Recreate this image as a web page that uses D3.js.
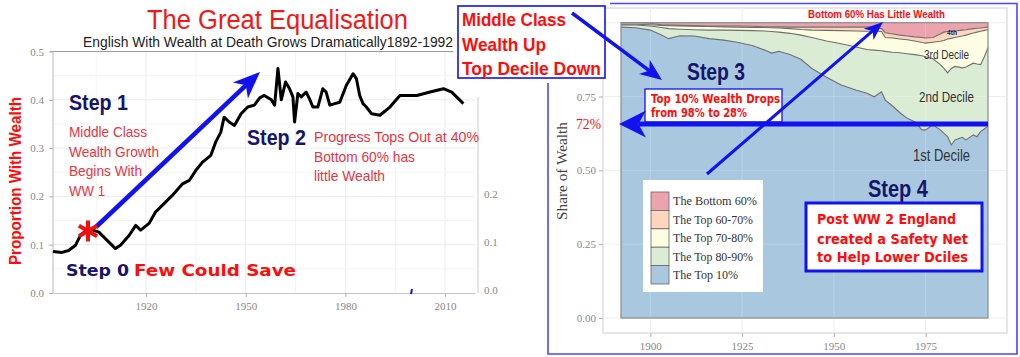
<!DOCTYPE html>
<html><head><meta charset="utf-8">
<script src="https://cdn.jsdelivr.net/npm/d3@7"></script>
<style>html,body{margin:0;padding:0;background:#fff;}svg{display:block;}</style>
</head><body>
<svg id="chart" width="1020" height="357"></svg>
<script>
// ---------- LEFT CHART DATA: proportion of English with wealth at death ----------
const yearsL = [1892,1894.7,1896.7,1898.8,1900.3,1902.8,1905.8,1908.3,1910.8,1912.3,1914.9,1916.9,1918.4,1920.9,1922.9,1925.4,1927.9,1931,1933,1935,1937,1939.5,1941,1942.5,1943.5,1945,1946.6,1948.6,1950.6,1952.6,1954.2,1955.6,1957.7,1958.7,1959.7,1960.7,1962,1963.2,1964.2,1964.7,1965.7,1966.7,1968.2,1969.2,1970.2,1971.7,1973.2,1974.2,1975.3,1976.8,1978.3,1980.3,1982.3,1983.3,1984.3,1985.3,1986.3,1987.9,1990.4,1993.4,1996.4,2001.5,2005.5,2009.5,2012,2015.5];
const proportionWithWealth = [.086,.084,.088,.099,.12,.133,.126,.109,.092,.099,.119,.14,.13,.144,.168,.185,.202,.226,.233,.254,.271,.285,.313,.333,.364,.354,.347,.371,.385,.389,.404,.409,.40,.389,.465,.40,.437,.423,.406,.354,.413,.406,.416,.402,.385,.385,.423,.416,.389,.392,.395,.43,.454,.444,.409,.392,.385,.371,.368,.385,.409,.409,.416,.423,.416,.392];
const leftYTicks = [0,0.1,0.2,0.3,0.4,0.5];
const leftRightTicks = [0,0.1,0.2];
const leftXTicks = [1920,1950,1980,2010];

// ---------- RIGHT CHART DATA: share of wealth by group ----------
const yearsR = [1892,1896,1900,1903,1905,1908,1912,1916,1920,1924,1928,1931,1933,1935,1938,1941,1944,1948,1952,1956,1959,1961,1963,1964,1966,1968,1970,1972,1974,1975,1977,1979,1980,1981,1982,1983,1985,1986,1988,1989,1990,1991,1992];
const top10   = [.985,.983,.975,.958,.946,.956,.955,.946,.941,.933,.922,.908,.897,.903,.892,.876,.845,.815,.789,.772,.761,.749,.766,.738,.718,.695,.676,.665,.637,.637,.654,.637,.625,.614,.586,.603,.612,.603,.620,.614,.631,.640,.650];
const top80_90 = [.007,.009,.014,.026,.034,.022,.021,.029,.034,.041,.051,.064,.073,.065,.072,.082,.105,.123,.140,.146,.148,.158,.139,.165,.182,.203,.219,.227,.251,.248,.224,.221,.220,.216,.259,.249,.235,.247,.243,.246,.227,.245,.265];
const top70_80 = [.003,.003,.004,.007,.010,.011,.012,.012,.011,.011,.011,.012,.013,.014,.016,.019,.025,.036,.044,.054,.062,.064,.065,.047,.048,.047,.047,.046,.045,.046,.056,.079,.095,.115,.102,.098,.108,.108,.102,.108,.113,.089,.061];
const top60_70 = [.005,.005,.005,.002,.002,.002,.002,.002,.003,.004,.004,.002,.003,.004,.005,.008,.010,.011,.012,.013,.014,.014,.010,.016,.014,.013,.013,.014,.017,.017,.016,.025,.028,.025,.024,.022,.020,.018,.015,.013,.011,.010,.009];
const bottom60 = [0,0,.002,.007,.008,.009,.010,.011,.011,.011,.012,.014,.014,.014,.015,.015,.015,.015,.015,.015,.015,.015,.020,.034,.038,.042,.045,.048,.050,.052,.050,.038,.032,.030,.029,.028,.025,.024,.020,.019,.018,.016,.015];
const groupKeys = ["top10","top80_90","top70_80","top60_70","bottom60"];
const groupLabels = ["The Top 10%","The Top 80-90%","The Top 70-80%","The Top 60-70%","The Bottom 60%"];
const groupColors = ["#a9c8e0","#dbecd5","#fdfde2","#fdd6bd","#eba3ad"];
const rightYTicks = [0,0.25,0.5,0.75,1];
const rightXTicks = [1900,1925,1950,1975];

const svg = d3.select("#chart");
svg.append("rect").attr("width",1020).attr("height",357).attr("fill","#fff");

const NAVY = "#15156a", RED = "#ff0d0d", PINKRED = "#e8353f", BLUE = "#1212ee";
const SANS = "'Liberation Sans', Arial, sans-serif";
const SERIF = "'Liberation Serif', 'DejaVu Serif', serif";
const WIDE = "'DejaVu Sans', Verdana, sans-serif";

function txt(g, x, y, s, o) {
  const t = g.append("text").attr("x", x).attr("y", y).text(s)
    .attr("font-family", o.family || SANS).attr("font-size", o.size || 12)
    .attr("font-weight", o.weight || "normal").attr("fill", o.fill || "#000")
    .attr("text-anchor", o.anchor || "start");
  if (o.len) t.attr("textLength", o.len).attr("lengthAdjust", "spacingAndGlyphs");
  if (o.rotate) t.attr("transform", `rotate(${o.rotate},${x},${y})`);
  return t;
}
function arrow(g, x1, y1, x2, y2, w, hl, hw, color) {
  const a = Math.atan2(y2 - y1, x2 - x1), c = Math.cos(a), s = Math.sin(a);
  const bx = x2 - hl * c, by = y2 - hl * s;
  const nx = x2 - hl * 0.72 * c, ny = y2 - hl * 0.72 * s;
  g.append("line").attr("x1", x1).attr("y1", y1).attr("x2", nx).attr("y2", ny)
    .attr("stroke", color).attr("stroke-width", w);
  g.append("path").attr("d", `M${x2},${y2}L${bx - s*hw/2},${by + c*hw/2}L${nx},${ny}L${bx + s*hw/2},${by - c*hw/2}Z`)
    .attr("fill", color);
}

// ================= LEFT CHART =================
const L = svg.append("g");
const xL = d3.scaleLinear().domain([1892, 2019]).range([53, 475]);
const yL = d3.scaleLinear().domain([0, 0.5]).range([293, 51.5]);
const yLr = d3.scaleLinear().domain([0, 0.4]).range([290, 97]);

// grid
const gridYears = [1905,1920,1935,1950,1965,1980,1995,2010];
L.selectAll(".gv").data(gridYears).join("line")
  .attr("x1", d => xL(d)).attr("x2", d => xL(d)).attr("y1", yL(0.5)).attr("y2", yL(0))
  .attr("stroke", (d,i) => i % 2 ? "#ececec" : "#f4f4f4").attr("stroke-width", 1);
L.selectAll(".gh").data(d3.range(0.05, 0.5, 0.05)).join("line")
  .attr("x1", xL(1892)).attr("x2", xL(2019)).attr("y1", d => yL(d)).attr("y2", d => yL(d))
  .attr("stroke", (d,i) => i % 2 ? "#ececec" : "#f4f4f4").attr("stroke-width", 1);
// top border line under subtitle
L.append("line").attr("x1", 50).attr("x2", 453).attr("y1", yL(0.5)).attr("y2", yL(0.5))
  .attr("stroke", "#9a9a9a").attr("stroke-width", 1.2);

function styleAxis(g, fs) {
  g.selectAll("path.domain").attr("stroke", "#c4c4c4").attr("stroke-width", 1.2);
  g.selectAll(".tick line").attr("stroke", "#b0b0b0");
  g.selectAll(".tick text").attr("font-family", SERIF).attr("font-size", fs).attr("fill", "#888");
}
const axL = L.append("g").attr("transform", "translate(53,0)")
  .call(d3.axisLeft(yL).tickValues(leftYTicks).tickFormat(d3.format(".1f")).tickSize(4).tickSizeOuter(0).tickPadding(5));
styleAxis(axL, 11);
axL.select("path.domain").attr("d", `M0,${yL(0.5)}V${yL(0)}`);
const axB = L.append("g").attr("transform", `translate(0,${yL(0)})`)
  .call(d3.axisBottom(xL).tickValues(leftXTicks).tickFormat(d3.format("d")).tickSize(4).tickSizeOuter(0).tickPadding(5));
styleAxis(axB, 11);
const axR = L.append("g").attr("transform", "translate(478,0)")
  .call(d3.axisRight(yLr).tickValues(leftRightTicks).tickFormat(d3.format(".1f")).tickSize(0).tickSizeOuter(0).tickPadding(6));
styleAxis(axR, 11);
axR.select("path.domain").attr("d", `M0,${yLr(0.4)}V${yL(0)}`).attr("stroke", "#d4d4d4");

// small blue tick mark artifact
L.append("line").attr("x1", 412).attr("x2", 411).attr("y1", 289).attr("y2", 294)
  .attr("stroke", BLUE).attr("stroke-width", 2);

// the line
const leftData = yearsL.map((y, i) => ({year: y, v: proportionWithWealth[i]}));
L.append("path").datum(leftData)
  .attr("d", d3.line().x(d => xL(d.year)).y(d => yL(d.v)).curve(d3.curveLinear))
  .attr("fill", "none").attr("stroke", "#000").attr("stroke-width", 3).attr("stroke-linejoin", "round");

// titles
txt(L, 147, 29, "The Great Equalisation", {size: 27, fill: "#f01818", len: 261});
txt(L, 83, 47, "English With Wealth at Death Grows Dramatically1892-1992", {size: 14, fill: "#222", len: 370});
txt(L, 21, 181, "Proportion With Wealth", {size: 16, weight: "bold", fill: RED, anchor: "middle", rotate: -90, len: 168});

// annotations
txt(L, 69, 110, "Step 1", {size: 22, weight: "bold", fill: NAVY, len: 59});
txt(L, 69, 137, "Middle Class", {size: 15, fill: PINKRED, len: 78});
txt(L, 69, 156.5, "Wealth Growth", {size: 15, fill: PINKRED, len: 90});
txt(L, 69, 176, "Begins With", {size: 15, fill: PINKRED, len: 73});
txt(L, 69, 195.5, "WW 1", {size: 15, fill: PINKRED, len: 36});
txt(L, 247, 145, "Step 2", {size: 22, weight: "bold", fill: NAVY, len: 59});
txt(L, 314, 142, "Progress Tops Out  at 40%", {size: 14.5, fill: PINKRED, len: 165});
txt(L, 314, 161.5, "Bottom 60% has", {size: 14.5, fill: PINKRED, len: 101});
txt(L, 314, 181, "little Wealth", {size: 14.5, fill: PINKRED, len: 71});
txt(L, 66, 276, "Step 0", {size: 16, weight: "bold", fill: NAVY, family: WIDE, len: 63});
txt(L, 134, 276, "Few Could Save", {size: 16, weight: "bold", fill: RED, family: WIDE, len: 162});

arrow(L, 96, 227, 260, 72, 4.5, 27, 22, BLUE);
// asterisk
const star = L.append("g").attr("transform", "translate(88,231)");
[90, 30, 150].forEach(a => {
  const r = 10.5, c = Math.cos(a*Math.PI/180), s = Math.sin(a*Math.PI/180);
  star.append("line").attr("x1", -r*c).attr("y1", -r*s).attr("x2", r*c).attr("y2", r*s)
    .attr("stroke", "#f01010").attr("stroke-width", 4);
});

// ================= RIGHT CHART =================
const R = svg.append("g");
const xR = d3.scaleLinear().domain([1892, 1992]).range([621, 988]);
const yR = d3.scaleLinear().domain([0, 1]).range([318, 22.7]);

// panel
R.append("rect").attr("x", 603).attr("y", 8).attr("width", 404).attr("height", 325)
  .attr("fill", "#fff").attr("stroke", "#d6d6d6").attr("stroke-width", 1.2);
R.selectAll(".rgh").data(rightYTicks).join("line")
  .attr("x1", 603).attr("x2", 1007).attr("y1", d => yR(d)).attr("y2", d => yR(d))
  .attr("stroke", "#eeeeee");
R.selectAll(".rgv").data(rightXTicks).join("line")
  .attr("x1", d => xR(d)).attr("x2", d => xR(d)).attr("y1", 8).attr("y2", 333)
  .attr("stroke", "#eeeeee");

const series = {top10, top80_90, top70_80, top60_70, bottom60};
const table = yearsR.map((y, i) => {
  const o = {year: y};
  groupKeys.forEach(k => o[k] = series[k][i]);
  return o;
});
const stacked = d3.stack().keys(groupKeys)(table);
const area = d3.area().x(d => xR(d.data.year)).y0(d => yR(d[0])).y1(d => yR(d[1]));
R.selectAll(".layer").data(stacked).join("path")
  .attr("d", area).attr("fill", (d, i) => groupColors[i]);
// faint grid over area
R.selectAll(".rgv2").data(rightXTicks).join("line")
  .attr("x1", d => xR(d)).attr("x2", d => xR(d)).attr("y1", yR(1)).attr("y2", yR(0))
  .attr("stroke", "#fff").attr("stroke-opacity", 0.18);
R.selectAll(".rgh2").data(rightYTicks).join("line")
  .attr("x1", xR(1892)).attr("x2", xR(1992)).attr("y1", d => yR(d)).attr("y2", d => yR(d))
  .attr("stroke", "#fff").attr("stroke-opacity", 0.18);
// layer boundaries
R.selectAll(".edge").data(stacked.slice(0, 4)).join("path")
  .attr("d", d3.line().x(d => xR(d.data.year)).y(d => yR(d[1])))
  .attr("fill", "none").attr("stroke", "#6f6f6f").attr("stroke-width", 1.1);
R.append("rect").attr("x", xR(1892)).attr("y", yR(1)).attr("width", xR(1992) - xR(1892)).attr("height", yR(0) - yR(1))
  .attr("fill", "none").attr("stroke", "#8a8a8a").attr("stroke-width", 1.2);

const axRL = R.append("g").attr("transform", "translate(603,0)")
  .call(d3.axisLeft(yR).tickValues(rightYTicks).tickFormat(d3.format(".2f")).tickSize(4).tickSizeOuter(0).tickPadding(3));
styleAxis(axRL, 11);
axRL.select("path.domain").remove();
const axRB = R.append("g").attr("transform", "translate(0,333)")
  .call(d3.axisBottom(xR).tickValues(rightXTicks).tickFormat(d3.format("d")).tickSize(4).tickSizeOuter(0).tickPadding(5));
styleAxis(axRB, 11);
axRB.select("path.domain").remove();
txt(R, 567, 171, "Share of Wealth", {size: 14, family: SERIF, fill: "#444", anchor: "middle", rotate: -90, len: 98});

// legend
const leg = R.append("g");
leg.append("rect").attr("x", 643).attr("y", 180).attr("width", 120).attr("height", 112).attr("fill", "#fff");
const legOrder = [4, 3, 2, 1, 0];
legOrder.forEach((k, i) => {
  leg.append("rect").attr("x", 651).attr("y", 192 + i * 18.4).attr("width", 18).attr("height", 18.4)
    .attr("fill", groupColors[k]).attr("stroke", "#666").attr("stroke-width", 0.8);
  const lens = [65, 80, 80, 80, 84];
  txt(leg, 673, 205 + i * 18.5, groupLabels[k], {size: 12.5, family: SERIF, fill: "#333", len: lens[k]});
});

// decile labels
txt(R, 947, 35, "4th", {size: 8, weight: "bold", fill: NAVY, len: 10});
txt(R, 924, 59, "3rd Decile", {size: 13, fill: "#333", len: 45});
txt(R, 919, 102, "2nd Decile", {size: 15, fill: "#333", len: 55});
txt(R, 913, 161, "1st Decile", {size: 16, fill: "#333", len: 57});
txt(R, 808, 18, "Bottom 60% Has Little Wealth", {size: 11, weight: "bold", fill: RED, len: 137});
txt(R, 687, 80, "Step 3", {size: 23, weight: "bold", fill: NAVY, len: 58});
txt(R, 868, 197, "Step 4", {size: 23, weight: "bold", fill: NAVY, len: 60});

// Top 10% box
R.append("rect").attr("x", 645).attr("y", 89).attr("width", 137).attr("height", 33)
  .attr("fill", "#fff").attr("stroke", BLUE).attr("stroke-width", 1.3);
txt(R, 651, 103, "Top 10% Wealth Drops", {size: 12, weight: "bold", fill: RED, family: WIDE, len: 129});
txt(R, 651, 117, "from 98% to 28%", {size: 12, weight: "bold", fill: RED, family: WIDE, len: 96});

// arrows in right chart
arrow(R, 988, 124, 619, 124, 5, 27, 27, BLUE);
arrow(R, 707, 174, 883, 22, 3, 19, 15, BLUE);
txt(R, 576, 129, "72%", {size: 14, family: SERIF, fill: RED, len: 25});

// Post WW2 box
R.append("rect").attr("x", 806).attr("y", 203).attr("width", 176).attr("height", 68)
  .attr("fill", "#fff").attr("stroke", BLUE).attr("stroke-width", 3);
txt(R, 817, 224, "Post WW 2 England", {size: 14.5, weight: "bold", fill: RED, family: WIDE, len: 139});
txt(R, 817, 243.5, "created a Safety Net", {size: 14.5, weight: "bold", fill: RED, family: WIDE, len: 151});
txt(R, 817, 262, "to Help Lower Dciles", {size: 14.5, weight: "bold", fill: RED, family: WIDE, len: 151});

// outer blue frame
svg.append("path").attr("d", "M610,3.5H1017V354H548V83")
  .attr("fill", "none").attr("stroke", "#4848ff").attr("stroke-width", 1.6);

// Middle class box
svg.append("rect").attr("x", 458).attr("y", 6).attr("width", 147).attr("height", 72)
  .attr("fill", "#fff").attr("stroke", BLUE).attr("stroke-width", 1.6);
txt(svg, 462, 26, "Middle Class", {size: 19, weight: "bold", fill: RED, len: 104});
txt(svg, 462, 51, "Wealth Up", {size: 19, weight: "bold", fill: RED, len: 84});
txt(svg, 462, 75, "Top Decile Down", {size: 19, weight: "bold", fill: RED, len: 139});
arrow(svg, 572, 13, 662, 80, 3.5, 22, 18, BLUE);
</script>
</body></html>
